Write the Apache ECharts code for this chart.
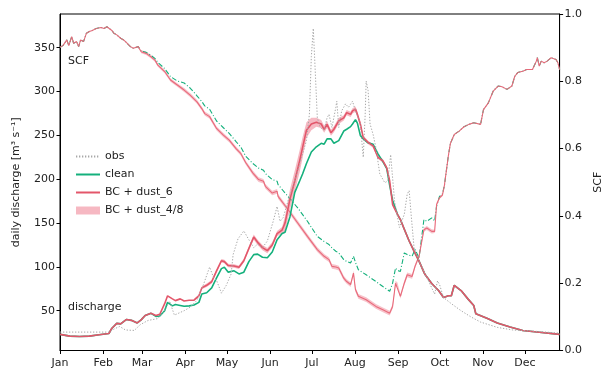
<!DOCTYPE html>
<html>
<head>
<meta charset="utf-8">
<script src="https://cdn.jsdelivr.net/npm/echarts@6/dist/echarts.min.js"></script>
<style>
  html, body { margin: 0; padding: 0; background: #ffffff; }
  #chart { width: 612px; height: 372px; }
</style>
</head>
<body>
<div id="chart"></div>
<script>
// Month ticks: day of year (0 = 1 Jan) and their labels
const monthDays = [0, 31, 59, 90, 120, 151, 181, 212, 243, 273, 304, 334];
const monthNames = ['Jan', 'Feb', 'Mar', 'Apr', 'May', 'Jun', 'Jul', 'Aug', 'Sep', 'Oct', 'Nov', 'Dec'];
const lastDay = 359;
const dischargeTicks = [50, 100, 150, 200, 250, 300, 350];
const scfTicks = [0, 0.2, 0.4, 0.6, 0.8, 1.0];

// Simulated daily discharge [m3 s-1]
const qDays = [0,7,14.1,21.1,28.1,35.1,37.3,40.8,43.6,47.8, 51.3,55.5,58.3,61.2,65.4,68.9,71.7,75.2,77.3,80.8,
  82.9,86.4,89.2,92.8,96.3,99.8,101.9,105.4,109,112.5, 116,118.1,120.9,125.1,128.6,132.1,135.7,139.2,142,145.5,
  149,152.5,156,159.6,161.7,165.2,168.7,172.2,174.3,177.1, 180.6,184.2,187.7,189.8,191.9,194.7,196.8,200.3,203.9,206,
  208.8,210.2,212.3,213.7,215.8,217.9,221.4,225,228.5,232, 234.8,236.9,239,242.5,244.6,247.4,250.9,254.4,258,262.2,
  267.1,272,275.6,279.1,281.2,283.3,284.7,288.2,293.1,297.3, 298.8,307.2,314.2,323.4,332.5,344.4,359];
const qDust6 = [23,21,20.5,21,22.5,24,30,35.5,35,40, 39,36,39.5,44.5,47,44.5,46,58,67,63.5,
  61.5,63.5,61,62,62,67,76,79,83,95.5, 107,106,101.5,101,99.5,107,121,134,128,122,
  118.5,125,138,142,150,177,198,221,236,256, 263,265,263,257,262.5,253,257,266.5,270,276,
  274,278,280,274,263,247.5,242,238,225,221, 213,198,171,160,154,143,129.5,118,106.5,91.5,
  81,73,65,67,67,79,80,73,63.5,56, 46.5,41,36,31.5,27.5,25.5,23];
const qClean = [23,21,20.5,21,22.5,24,30,35.5,35,40, 39,36,39.5,44.5,47,43.5,44,50,59.5,55.5,
  57,56,55,55.5,56.5,59.5,69,70.5,76,87.5, 98,99.5,94,95.5,92,94,106,114,114.5,111,
  110.5,117,131,138,139.5,157,185,198,206,218, 231,237,241,240,246,246,241,244,255,257,
  260,263,268,264,250,246,241.5,239.8,229,220, 212,193,176,160,154,143,129.5,118,106.5,91.5,
  81,73,65,67,67,79,80,73,63.5,56, 46.5,41,36,31.5,27.5,25.5,23];
// BC + dust_4/8 discharge envelope: [day, lower, upper]
const qDust48 = [[96.3,61,63.5],[99.8,65.5,68.5],[101.9,74.5,77.5],[105.4,77,81],[109,81,85],
  [112.5,93.5,97.5],[116,105,109],[118.1,104,108],[120.9,99.5,103.5],[125.1,99,103],[128.6,97.5,101.5],
  [132.1,105,109.5],[135.7,118.5,123.5],[139.2,131,137],[142,125,131],[145.5,119,125],[149,115.5,121.5],
  [152.5,122,128],[156,135,141],[159.6,138.5,145.5],[161.7,140,158],[165.2,165,188],[168.7,186,210],
  [172.2,208,233],[174.3,224,248],[177.1,247,265],[180.6,256,270],[184.2,260,270],[187.7,258.5,267.5],
  [189.8,253,261],[191.9,258.5,266.5],[194.7,249.5,256.5],[196.8,253.5,260.5],[200.3,263,270],[203.9,267,273],
  [206,273,279],[208.8,271,277],[210.2,275,281],[212.3,277,283],[213.7,271,277],[215.8,260,266],
  [217.9,245,250],[221.4,240,244],[225,236,240],[228.5,223,227],[232,219,223],[234.8,211,215],
  [236.9,196,200],[239,169.5,172.5],[242.5,159,161],[244.6,153,155],[247.4,142.5,143.5]];

// Observed daily discharge [m3 s-1]
const obsDays = [0,35.1,38.7,42.9,47.1,53.4,57.6,63.3,70.3,75.2, 78.7,82.2,89.2,93.5,98.4,103.3,107.5,110.3,112.5,116,
  119.5,123,124.4,127.9,132.1,135.7,139.2,142,145.5,149, 153.2,156,158.1,160.3,163.8,168.7,173.6,177.1,179.2,180.6,
  182,183.5,184.9,187,189.8,191.9,193.3,195.4,198.2,198.9, 200.3,202.4,205.2,207.3,210.2,212.3,215.8,217.9,219.3,220,
  221.4,222.8,225,227,229.8,233.4,235.5,237.6,240.4,243.9, 247.4,249.5,250.9,252.3,254.4,258,261.5,263.6,267.1,269.2,
  271.3,272.7,275.6,281.2,288.2,295.2,302.2,314.2,325.4,337.4, 349.3,359];
const obsQ = [25.6,25.6,29,32,28,27.5,34,38.9,41,50, 61,45,50,54,61.8,80.8,99.8,88,84.6,70,
  79,92,114,132,141,131,122,126,122,129.5, 152,169,152,156,175,198,225,244,274,340,
  372,320,270,259,256,270,274,259,282,289, 259,278,286,282,289,278,263,225,274,312,
  301,263,251,236,206,196,198,228,175,145, 160,183,187,160,122,107,95,88,76,69,
  84,80,65,58,50,43,37,31,28,27, 25.6,24.4];

// Snow cover fraction
const scfDays = [0,2.1,4.9,6.3,8.4,9.8,11.9,13.4,14.8,16.9, 19,21.1,23.2,26,27.4,29.5,31.6,33.7,35.1,37.3,
  38.7,40.8,43.6,45.7,47.8,50.6,52.7,56.2,58.3,61.9, 65.4,68.2,70.3,75.2,79.4,84.3,89.2,93.5,98.4,101.9,
  104,107.5,112.5,117.4,121.6,126.5,130,133.5,138.5,142.7, 146.2,147.6,152.5,156,156.7,163.8,170.8,177.8,184.9,189.8,
  193.3,195.4,198.2,200.3,203.9,206,208.8,210.9,212.3,214.4, 220,227,232,236.9,239,241.1,242.5,244.6,247.4,249.5,
  253,255.1,258,261.5,263.6,267.1,269.2,270.6,272.7,274.8, 276.2,279.1,280.5,283.3,286.8,290.3,293.8,297.3,302.2,304.3,
  307.8,311.3,314.8,317.6,321.2,324.7,326.8,328.9,332.5,335.3, 339.5,342.3,343,344.4,345.8,347.9,350,352.9,354.2,356.4,
  357.8,359];
const scfDust6 = [.901,.906,.923,.906,.933,.913,.918,.903,.923,.918,
  .943,.948,.951,.957,.954,.960,.957,.962,.967,.951,
  .943,.938,.928,.923,.915,.903,.898,.903,.888,.883,
  .873,.863,.848,.829,.804,.789,.774,.759,.739,.719,
  .704,.695,.660,.640,.625,.600,.585,.558,.528,.508,
  .503,.488,.468,.473,.458,.419,.379,.339,.300,.280,
  .270,.250,.248,.245,.215,.205,.196,.230,.181,.161,
  .151,.131,.121,.111,.131,.200,.195,.161,.200,.225,
  .220,.250,.280,.359,.364,.354,.354,.434,.454,.462,
  .490,.580,.615,.642,.652,.665,.672,.677,.672,.716,
  .736,.771,.786,.784,.776,.786,.815,.826,.830,.835,
  .835,.860,.870,.845,.860,.855,.860,.870,.875,.865,
  .855,.835];
const scfClean = [.901,.906,.923,.906,.933,.913,.918,.903,.923,.918,
  .943,.948,.951,.957,.954,.960,.957,.962,.967,.951,
  .943,.938,.928,.923,.915,.903,.898,.903,.890,.886,
  .877,.868,.856,.838,.814,.801,.795,.780,.757,.740,
  .727,.717,.682,.662,.645,.621,.604,.577,.556,.542,
  .536,.526,.508,.503,.493,.458,.424,.384,.339,.324,
  .315,.305,.295,.290,.270,.265,.260,.280,.262,.240,
  .225,.205,.190,.176,.200,.245,.238,.235,.290,.285,
  .280,.300,.275,.389,.384,.394,.385,.429,.458,.465,
  .490,.580,.615,.642,.652,.665,.672,.677,.672,.716,
  .736,.771,.786,.784,.776,.786,.815,.826,.830,.835,
  .835,.860,.870,.845,.860,.855,.860,.870,.875,.865,
  .855,.835];
// BC + dust_4/8 SCF envelope: [day, lower, upper]
const scfDust48 = [[58.3,.883,.893],[61.9,.878,.888],[65.4,.868,.878],[68.2,.858,.868],[70.3,.843,.853],
  [75.2,.824,.834],[79.4,.799,.809],[84.3,.784,.794],[89.2,.768,.780],[93.5,.753,.765],[98.4,.733,.745],
  [101.9,.713,.725],[104,.698,.710],[107.5,.689,.701],[112.5,.654,.666],[117.4,.634,.646],[121.6,.619,.631],
  [126.5,.594,.606],[130,.579,.591],[133.5,.552,.564],[138.5,.521,.535],[142.7,.501,.515],[146.2,.496,.510],
  [147.6,.481,.495],[152.5,.461,.475],[156,.466,.480],[156.7,.451,.465],[163.8,.412,.426],[170.8,.372,.386],
  [177.8,.332,.346],[184.9,.293,.307],[189.8,.273,.287],[193.3,.263,.277],[195.4,.243,.257],[198.2,.241,.255],
  [200.3,.238,.252],[203.9,.208,.222],[206,.198,.212],[208.8,.189,.203],[210.9,.223,.237],[212.3,.174,.188],
  [214.4,.154,.168],[220,.144,.158],[227,.124,.138],[232,.114,.128],[236.9,.104,.118],[239,.124,.138],
  [241.1,.193,.207],[242.5,.188,.202],[244.6,.154,.168],[247.4,.193,.207],[249.5,.218,.232],[253,.213,.227],
  [255.1,.244,.256],[258,.274,.286],[261.5,.353,.365],[263.6,.358,.370],[267.1,.348,.360],[269.2,.349,.359],
  [270.6,.429,.439],[272.7,.450,.458],[274.8,.458,.466],[276.2,.487,.493],[279.1,.578,.582],[280.5,.614,.616]];

const FONT = 'DejaVu Sans';
const GREEN = '#14b07c';
const RED = '#e3566a';
const PINK = '#f6b8c2';

function pairs(xs, ys) { return xs.map((x, i) => [x, ys[i]]); }

// Shaded envelope drawn as one polygon through the axis scales
function envelope(name, band, yAxisIndex, color, z) {
  return {
    name: name, type: 'custom', yAxisIndex: yAxisIndex, z: z, silent: true,
    itemStyle: { color: color },
    data: band,
    encode: { x: 0, y: [1, 2] },
    renderItem: function (params, api) {
      if (params.dataIndex !== 0) return { type: 'group', children: [] };
      const upper = band.map(b => api.coord([b[0], b[2]]));
      const lower = band.map(b => api.coord([b[0], b[1]])).reverse();
      return { type: 'polygon', shape: { points: upper.concat(lower) }, style: { fill: color } };
    }
  };
}

const hideSymbol = { opacity: 0 };

const chart = echarts.init(document.getElementById('chart'), null, { renderer: 'canvas' });
chart.setOption({
  animation: false,
  backgroundColor: '#ffffff',
  textStyle: { fontFamily: FONT },
  grid: { left: 60, right: 41, top: 14, bottom: 21.5, show: true, borderColor: '#000', borderWidth: 1 },
  legend: {
    orient: 'vertical', left: 70, top: 146, itemGap: 7, itemWidth: 24, itemHeight: 8,
    textStyle: { fontFamily: FONT, fontSize: 11, color: '#222' },
    data: [
      { name: 'obs', itemStyle: hideSymbol },
      { name: 'clean', itemStyle: hideSymbol },
      { name: 'BC + dust_6', itemStyle: hideSymbol },
      { name: 'BC + dust_4/8', icon: 'rect', itemStyle: { color: PINK } }
    ]
  },
  xAxis: {
    type: 'value', min: 0, max: lastDay,
    axisLine: { show: true, lineStyle: { color: '#000', width: 1 } },
    axisTick: { show: true, length: 3.5, customValues: monthDays, lineStyle: { color: '#000' } },
    axisLabel: {
      customValues: monthDays, margin: 7, fontSize: 11, color: '#222', fontFamily: FONT,
      formatter: v => monthNames[monthDays.indexOf(v)]
    },
    splitLine: { show: false }
  },
  yAxis: [
    {
      type: 'value', min: 4.6, max: 388.5, position: 'left',
      name: 'daily discharge [m³ s⁻¹]', nameLocation: 'middle', nameGap: 38,
      nameTextStyle: { fontSize: 11, color: '#222', fontFamily: FONT },
      axisLine: { show: true, lineStyle: { color: '#000' } },
      axisTick: { show: true, length: 3.5, customValues: dischargeTicks, lineStyle: { color: '#000' } },
      axisLabel: { customValues: dischargeTicks, margin: 5, fontSize: 11, color: '#222', fontFamily: FONT },
      splitLine: { show: false }
    },
    {
      type: 'value', min: 0, max: 1, position: 'right',
      name: 'SCF', nameLocation: 'middle', nameGap: 30, nameRotate: 90,
      nameTextStyle: { fontSize: 11, color: '#222', fontFamily: FONT },
      axisLine: { show: true, lineStyle: { color: '#000' } },
      axisTick: { show: true, length: 3.5, customValues: scfTicks, lineStyle: { color: '#000' } },
      axisLabel: { customValues: scfTicks, margin: 5, fontSize: 11, color: '#222', fontFamily: FONT, formatter: v => v.toFixed(1) },
      splitLine: { show: false }
    }
  ],
  graphic: [
    { type: 'text', left: 68, top: 56, style: { text: 'SCF', font: '11px "DejaVu Sans"', fill: '#222' } },
    { type: 'text', left: 68, top: 302, style: { text: 'discharge', font: '11px "DejaVu Sans"', fill: '#222' } }
  ],
  series: [
    envelope('BC + dust_4/8', qDust48, 0, PINK, 1),
    envelope('BC + dust_4/8 SCF', scfDust48, 1, '#f7c3cb', 1),
    {
      name: 'clean SCF', type: 'line', yAxisIndex: 1, z: 2, symbol: 'none',
      data: pairs(scfDays, scfClean),
      lineStyle: { color: GREEN, width: 1.1, type: [5, 2, 1, 2] }
    },
    {
      name: 'BC + dust_6 SCF', type: 'line', yAxisIndex: 1, z: 3, symbol: 'none',
      data: pairs(scfDays, scfDust6),
      lineStyle: { color: '#e8697a', width: 1.1 }
    },
    {
      name: 'clean', type: 'line', yAxisIndex: 0, z: 4, symbol: 'none',
      itemStyle: { color: GREEN },
      data: pairs(qDays, qClean),
      lineStyle: { color: GREEN, width: 1.6 }
    },
    {
      name: 'BC + dust_6', type: 'line', yAxisIndex: 0, z: 5, symbol: 'none',
      itemStyle: { color: RED },
      data: pairs(qDays, qDust6),
      lineStyle: { color: RED, width: 1.6 }
    },
    {
      name: 'obs', type: 'line', yAxisIndex: 0, z: 6, symbol: 'none',
      itemStyle: { color: '#a8a8a8' },
      data: pairs(obsDays, obsQ),
      lineStyle: { color: '#a8a8a8', width: 1, type: [1.3, 1.7] }
    }
  ]
});
</script>
</body>
</html>
